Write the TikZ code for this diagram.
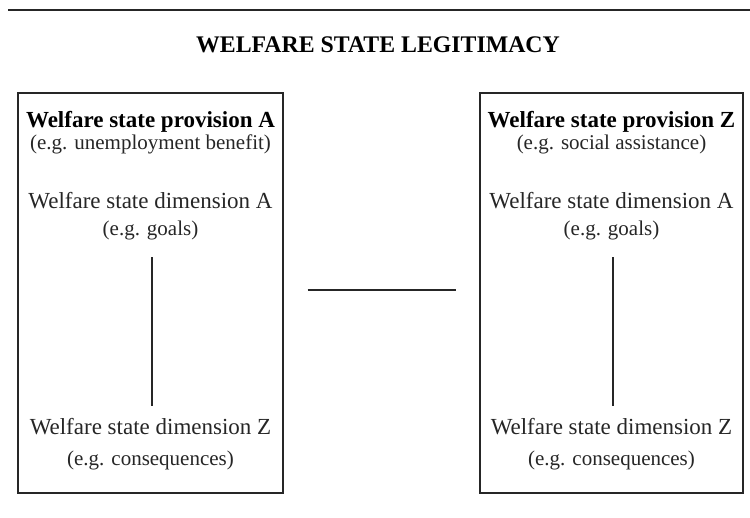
\documentclass[tikz,border=0pt]{standalone}
\usepackage{fontspec}
\setmainfont{Liberation Serif}
\begin{document}
\begin{tikzpicture}[x=1pt,y=-1pt,
  txt/.style={inner sep=0pt,anchor=base,text height=14pt,text depth=4.5pt,font=\fontsize{23}{25}\selectfont,text=black!85},
  sub/.style={txt,font=\fontsize{21}{23}\selectfont},
  bold/.style={txt,font=\fontsize{23}{25}\selectfont\bfseries,text=black},
  boxA/.style={draw=black!85,line width=1.3pt,inner sep=0pt},
  conn/.style={draw=black!85,line width=1.3pt}]
\useasboundingbox (0,0) rectangle (750,518);
% top rule
\coordinate (ruleL) at (8,10);
\coordinate (ruleR) at (750,10);
\draw[conn] (ruleL) -- (ruleR);
% title
\node[bold,font=\fontsize{23.8}{25}\selectfont\bfseries] (title) at (378,53) {WELFARE STATE LEGITIMACY};
% boxes
\node[boxA,minimum width=265pt,minimum height=400pt] (bA) at (150.5,293) {};
\node[boxA,minimum width=263pt,minimum height=400pt] (bZ) at (611.5,293) {};
% left box text
\node[bold] (provA) at (150.5,127.5) {Welfare state provision A};
\node[sub] (egA) at (150.5,150) {(e.g. unemployment benefit)};
\node[txt] (dimAA) at (150.5,209) {Welfare state dimension A};
\node[sub] (goalsA) at (150.5,236) {(e.g. goals)};
\node[txt] (dimZA) at (150.5,435) {Welfare state dimension Z};
\node[sub] (consA) at (150.5,466) {(e.g. consequences)};
% right box text
\node[bold] (provZ) at (611.5,127.5) {Welfare state provision Z};
\node[sub] (egZ) at (611.5,150) {(e.g. social assistance)};
\node[txt] (dimAZ) at (611.5,209) {Welfare state dimension A};
\node[sub] (goalsZ) at (611.5,236) {(e.g. goals)};
\node[txt] (dimZZ) at (611.5,435) {Welfare state dimension Z};
\node[sub] (consZ) at (611.5,466) {(e.g. consequences)};
% connectors
\draw[conn,shorten <=16.5pt,shorten >=15pt] ([xshift=1.5pt]goalsA.south) -- ([xshift=1.5pt]dimZA.north);
\draw[conn,shorten <=16.5pt,shorten >=15pt] ([xshift=1.5pt]goalsZ.south) -- ([xshift=1.5pt]dimZZ.north);
\draw[conn,shorten <=24pt,shorten >=23pt] ([yshift=3pt]bA.east) -- ([yshift=3pt]bZ.west);
\end{tikzpicture}
\end{document}
